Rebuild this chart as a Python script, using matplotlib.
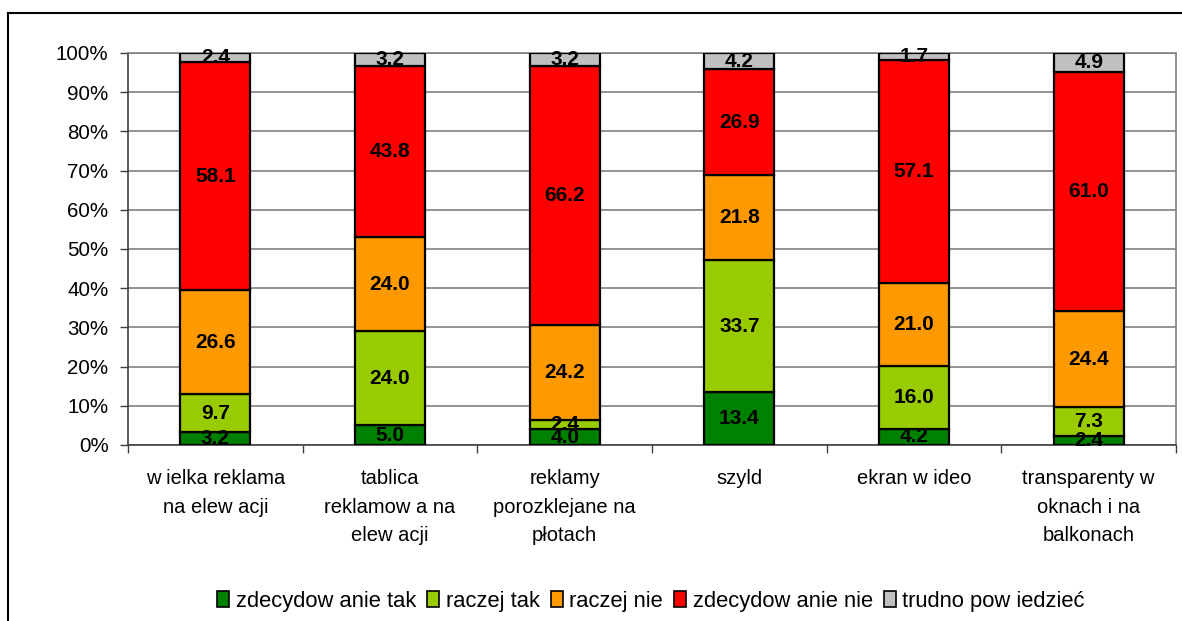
import matplotlib
matplotlib.use("Agg")
import matplotlib.pyplot as plt
import numpy as np
from matplotlib.lines import Line2D
from matplotlib.patches import Patch

plt.rcParams['font.family'] = ['Liberation Sans', 'DejaVu Sans']

categories = [
    "w ielka reklama\nna elew acji",
    "tablica\nreklamow a na\nelew acji",
    "reklamy\nporozklejane na\npłotach",
    "szyld",
    "ekran w ideo",
    "transparenty w\noknach i na\nbalkonach",
]
series_names = ["zdecydow anie tak", "raczej tak", "raczej nie",
                "zdecydow anie nie", "trudno pow iedzieć"]
zdecydowanie_tak = [3.2, 5.0, 4.0, 13.4, 4.2, 2.4]
raczej_tak = [9.7, 24.0, 2.4, 33.7, 16.0, 7.3]
raczej_nie = [26.6, 24.0, 24.2, 21.8, 21.0, 24.4]
zdecydowanie_nie = [58.1, 43.8, 66.2, 26.9, 57.1, 61.0]
trudno_powiedziec = [2.4, 3.2, 3.2, 4.2, 1.7, 4.9]
y_ticks = [0, 10, 20, 30, 40, 50, 60, 70, 80, 90, 100]

series = [zdecydowanie_tak, raczej_tak, raczej_nie, zdecydowanie_nie, trudno_powiedziec]
colors = ["#008000", "#99CC00", "#FF9900", "#FF0000", "#C0C0C0"]

W, H = 1182, 621
fig = plt.figure(figsize=(W / 100, H / 100), dpi=100)
ax = fig.add_axes([128 / W, 1 - 445 / H, (1176 - 128) / W, (445 - 53) / H])

x = np.arange(len(categories))
bottom = np.zeros(len(categories))
for vals, col, name in zip(series, colors, series_names):
    vals = np.array(vals)
    bars = ax.bar(x, vals, 0.4, bottom=bottom, color=col, edgecolor="black",
                  linewidth=1.6, label=name, zorder=3)
    ax.bar_label(bars, labels=[f"{v:.1f}" for v in vals], label_type="center",
                 fontsize=15, fontweight="bold", color="black", zorder=4)
    bottom += vals

ax.set_xlim(-0.5, len(categories) - 0.5)
ax.set_ylim(0, 100)
ax.set_yticks(y_ticks)
ax.set_yticklabels([f"{t}%" for t in y_ticks], fontsize=14.8)
ax.yaxis.grid(True, color="#808080", linewidth=1.2, zorder=0)
ax.tick_params(axis="y", direction="out", length=6, width=1, color="#404040", pad=8)

ax.set_xticks(x)
ax.set_xticklabels(categories, fontsize=14.5, linespacing=1.62)
ax.set_xticks(np.arange(len(categories) + 1) - 0.5, minor=True)
ax.tick_params(axis="x", which="major", length=0, pad=17.5)
ax.tick_params(axis="x", which="minor", direction="out", length=6, width=1,
               color="#404040")
for lab in ax.get_xticklabels():
    lab.set_verticalalignment("top")

for side in ["top", "right"]:
    ax.spines[side].set_color("#808080")
    ax.spines[side].set_linewidth(1.2)
for side in ["left", "bottom"]:
    ax.spines[side].set_color("#404040")
    ax.spines[side].set_linewidth(1.2)

# outer chart frame
fig.add_artist(Line2D([8 / W, 8 / W], [0, 1 - 13 / H], transform=fig.transFigure,
                      color="black", linewidth=1.5))
fig.add_artist(Line2D([8 / W, 1], [1 - 13 / H, 1 - 13 / H], transform=fig.transFigure,
                      color="black", linewidth=1.5))

handles = [Patch(facecolor=c, edgecolor="black", linewidth=1.2) for c in colors]
fig.legend(handles, series_names, loc="center", bbox_to_anchor=(651 / W, 1 - 601 / H),
           ncol=5, frameon=False, fontsize=15.8, handlelength=0.55, handleheight=0.7,
           handletextpad=0.3, columnspacing=0.5)

fig.savefig("out.png", dpi=100)
